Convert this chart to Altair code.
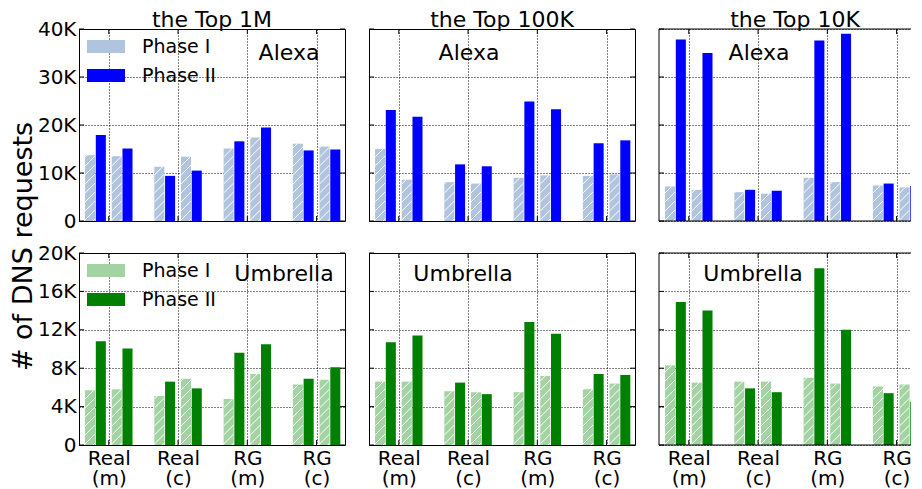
import altair as alt
import pandas as pd
import numpy as np

# ---------------- data ----------------
categories = ["Real (m)", "Real (c)", "RG (m)", "RG (c)"]
column_titles = ["the Top 1M", "the Top 100K", "the Top 10K"]
row_names = ["Alexa", "Umbrella"]
bar_phases = ["Phase I", "Phase II", "Phase I", "Phase II"]  # bar order in each group

# DNS requests; one list per category: [Phase I, Phase II, Phase I, Phase II]
alexa_top1m = [[13700, 17900, 13500, 15100], [11300, 9400, 13400, 10500],
               [15100, 16600, 17400, 19500], [16100, 14700, 15500, 14900]]
alexa_top100k = [[15000, 23100, 8600, 21700], [8100, 11800, 7800, 11400],
                 [9000, 24900, 9500, 23300], [9400, 16200, 9700, 16800]]
alexa_top10k = [[7200, 37800, 6500, 35000], [6000, 6500, 5700, 6300],
                [9000, 37600, 8100, 39000], [7400, 7800, 7000, 7300]]
umbrella_top1m = [[5700, 10800, 5800, 10050], [5100, 6600, 6900, 5900],
                  [4800, 9600, 7400, 10500], [6300, 6900, 6800, 8100]]
umbrella_top100k = [[6600, 10700, 6600, 11400], [5600, 6500, 5500, 5300],
                    [5500, 12800, 7200, 11600], [5800, 7400, 6400, 7300]]
umbrella_top10k = [[8300, 14900, 6500, 14000], [6600, 5900, 6600, 5500],
                   [7000, 18400, 6400, 12000], [6100, 5400, 6300, 4500]]

y_max = [40000, 20000]
y_ticks = [[0, 10000, 20000, 30000, 40000], [0, 4000, 8000, 12000, 16000, 20000]]

panels_data = [[alexa_top1m, alexa_top100k, alexa_top10k],
               [umbrella_top1m, umbrella_top100k, umbrella_top10k]]

# ---------------- styling / layout ----------------
FONT = "DejaVu Sans"
W, H = 266, 192
W_LAST = 252          # last column is cut by the page edge
XMIN, XMAX = -0.43, 3.41
OFFS = [-0.27, -0.115, 0.115, 0.27]
BW = 0.145
PXX = W / (XMAX - XMIN)
light = ["#b0c4de", "#a3d3a3"]
solid = ["#0000ff", "#008000"]
HATCH_SP = 9.0
TICK_LEN = 5.0
OFF_EXPR = "[" + ",".join(str(o) for o in OFFS) + "][datum.slot]"


def hatch_segments(xl, xr, yb, yt, pxy):
    """white diagonal hatch lines inside a rectangle given in data units"""
    wpx = (xr - xl) * PXX
    hpx = (yt - yb) * pxy
    rise = wpx
    segs = []
    for b in np.arange(-rise + 2.0, hpx, HATCH_SP):
        t0 = max(0.0, -b / rise)
        t1 = min(1.0, (hpx - b) / rise)
        if t1 > t0:
            segs.append(dict(xa=xl + t0 * (xr - xl), xb=xl + t1 * (xr - xl),
                             ya=yb + (b + t0 * rise) / pxy, yb=yb + (b + t1 * rise) / pxy))
    return segs


def panel(r, c):
    vals = panels_data[r][c]
    ymax = y_max[r]
    pxy = H / ymax
    last = (c == 2)
    width = W_LAST if last else W
    xmax = XMIN + width / PXX
    rows = []
    for g, cat in enumerate(categories):
        for s in range(4):
            rows.append(dict(g=g, slot=s, cat=cat, phase=bar_phases[s], value=vals[g][s]))
    df = pd.DataFrame(rows)

    xs = alt.Scale(domain=[XMIN, xmax], nice=False, zero=False)
    ys = alt.Scale(domain=[0, ymax], nice=False, zero=True)
    color_expr = f"datum.phase == 'Phase I' ? '{light[r]}' : '{solid[r]}'"

    label_expr = "split(" + str(categories) + "[datum.value], ' ')"
    xaxis = alt.Axis(values=[0, 1, 2, 3], grid=True, gridDash=[1, 2], gridColor="black",
                     gridOpacity=1, gridWidth=1, ticks=False, domain=False, title="",
                     labels=(r == 1), labelExpr=label_expr, labelFontSize=20,
                     labelLineHeight=20, labelPadding=3, labelColor="black", labelFont=FONT)
    yaxis_kw = dict(values=y_ticks[r], grid=True, gridDash=[1, 2], gridColor="black",
                    gridOpacity=1, gridWidth=1, ticks=False, domain=False,
                    labels=(c == 0),
                    labelExpr="datum.value == 0 ? '0' : format(datum.value / 1000, 'd') + 'K'",
                    labelFontSize=20, labelPadding=3, labelColor="black", labelFont=FONT,
                    title="")
    if r == 0 and c == 0:
        yaxis_kw.update(title="# of DNS requests", titleFontSize=27, titleFont=FONT,
                        titleFontWeight="normal", titleColor="black", titleAngle=270,
                        titleAlign="center", titleBaseline="alphabetic",
                        titleX=-48, titleY=217)
    yaxis = alt.Axis(**yaxis_kw)

    def enc(ch):
        return ch.encode(
            x=alt.X("xa:Q", scale=xs, axis=xaxis), x2="xb:Q",
            y=alt.Y("ya:Q", scale=ys, axis=yaxis), y2="yb:Q",
        )

    bars = enc(alt.Chart(df).transform_calculate(
        xa="datum.g + " + OFF_EXPR + " - " + str(BW / 2),
        xb="datum.g + " + OFF_EXPR + " + " + str(BW / 2),
        ya="datum.value",
        yb="0",
        fillc=color_expr,
    ).mark_bar(clip=True)).encode(color=alt.Color("fillc:N", scale=None))

    # hatching on Phase I bars
    segs = []
    for g in range(4):
        for s in (0, 2):
            xl = g + OFFS[s] - BW / 2
            segs += hatch_segments(xl, xl + BW, 0, vals[g][s], pxy)

    layers = [bars]

    # legend (top-left panel of each row)
    if c == 0:
        sw_x0 = XMIN + 8 / PXX
        sw_x1 = XMIN + 46 / PXX
        sw = pd.DataFrame([
            dict(xa=sw_x0, xb=sw_x1, ya=ymax * (1 - 24 / H), yb=ymax * (1 - 11 / H), phase="Phase I"),
            dict(xa=sw_x0, xb=sw_x1, ya=ymax * (1 - 53 / H), yb=ymax * (1 - 40 / H), phase="Phase II"),
        ])
        layers.append(enc(alt.Chart(sw).transform_calculate(fillc=color_expr).mark_rect())
                      .encode(color=alt.Color("fillc:N", scale=None)))
        segs += hatch_segments(sw_x0, sw_x1, ymax * (1 - 24 / H), ymax * (1 - 11 / H), pxy)
        for txt, py in (("Phase I", 18), ("Phase II", 47)):
            layers.append(alt.Chart(pd.DataFrame({"t": [txt]})).mark_text(
                fontSize=19, font=FONT, align="left", baseline="middle", color="black"
            ).encode(text="t:N", x=alt.value(63), y=alt.value(py)))

    layers.insert(1, enc(alt.Chart(pd.DataFrame(segs)).mark_rule(
        color="white", strokeWidth=1, clip=True)))

    # inward tick marks on the frame (and, for the cut panel, its open frame)
    tk = []
    for v in y_ticks[r]:
        tk.append(dict(xa=XMIN, xb=XMIN + TICK_LEN / PXX, ya=v, yb=v))
        if not last:
            tk.append(dict(xa=xmax - TICK_LEN / PXX, xb=xmax, ya=v, yb=v))
    for g in range(4):
        tk.append(dict(xa=g, xb=g, ya=0, yb=TICK_LEN / pxy))
        tk.append(dict(xa=g, xb=g, ya=ymax - TICK_LEN / pxy, yb=ymax))
    if last:
        tk.append(dict(xa=XMIN, xb=xmax, ya=0, yb=0))
        tk.append(dict(xa=XMIN, xb=xmax, ya=ymax, yb=ymax))
        tk.append(dict(xa=XMIN, xb=XMIN, ya=0, yb=ymax))
    layers.append(enc(alt.Chart(pd.DataFrame(tk)).mark_rule(color="black", strokeWidth=1)))

    # dataset name
    if c == 0:
        name_pos = (210, 24) if r == 0 else (205, 21)
    else:
        name_pos = (100, 24) if r == 0 else (94, 21)
    layers.append(alt.Chart(pd.DataFrame({"t": [row_names[r]]})).mark_text(
        fontSize=22, font=FONT, align="center", baseline="middle", color="black"
    ).encode(text="t:N", x=alt.value(name_pos[0]), y=alt.value(name_pos[1])))

    # column title (drawn as text just above the frame)
    if r == 0:
        title_x = 136 if last else 133
        layers.append(alt.Chart(pd.DataFrame({"t": [column_titles[c]]})).mark_text(
            fontSize=22, font=FONT, align="center", baseline="alphabetic", color="black"
        ).encode(text="t:N", x=alt.value(title_x), y=alt.value(-2)))

    props = dict(width=width, height=H)
    if last:
        props["view"] = alt.ViewBackground(stroke="transparent")
    return alt.layer(*layers).properties(**props)


chart = alt.concat(
    *[panel(r, c) for r in range(2) for c in range(3)],
    columns=3, spacing={"row": 32, "column": 24}, bounds="flush",
).properties(
    padding={"left": 0, "top": 0, "right": 0, "bottom": 0}
).configure(font=FONT).configure_view(stroke="black", strokeWidth=1)

chart.save("out.html", embed_options={"renderer": "svg", "actions": False})
